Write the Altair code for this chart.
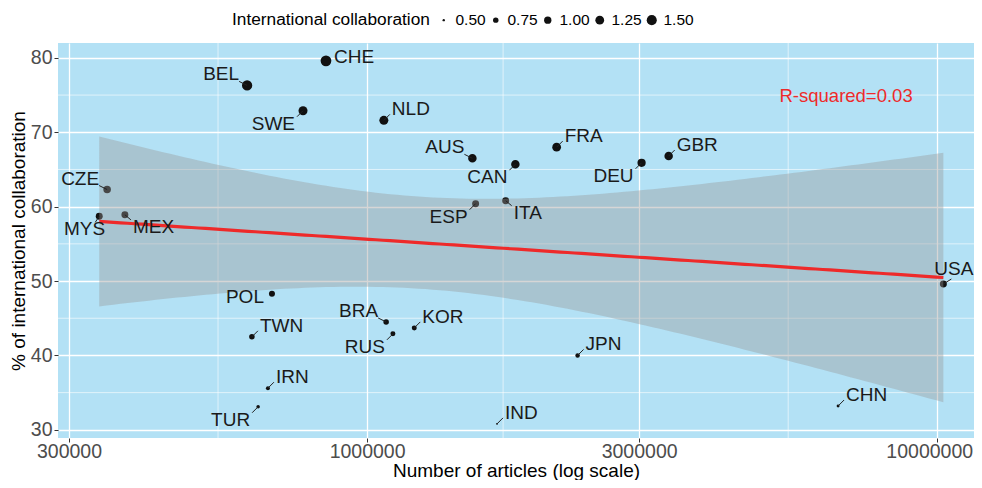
import altair as alt
import numpy as np
import pandas as pd

# ---- data ----
countries = ["CHE", "BEL", "SWE", "NLD", "AUS", "CAN", "FRA", "DEU", "GBR", "CZE",
             "MYS", "MEX", "ESP", "ITA", "USA", "POL", "TWN", "BRA", "RUS", "KOR",
             "JPN", "IRN", "TUR", "IND", "CHN"]
articles = [847000, 616000, 772000, 1070000, 1530000, 1820000, 2150000, 3030000, 3380000, 350000,
            339000, 376000, 1550000, 1750000, 10250000, 681000, 628000, 1080000, 1110000, 1210000,
            2340000, 670000, 644000, 1690000, 6700000]
intl_pct = [79.6, 76.3, 72.9, 71.6, 66.5, 65.7, 68.0, 65.9, 66.8, 62.3,
            58.7, 58.9, 60.4, 60.8, 49.6, 48.3, 42.5, 44.5, 42.9, 43.7,
            40.0, 35.6, 33.1, 30.8, 33.2]
intl_collab = [1.65, 1.55, 1.29, 1.29, 1.20, 1.20, 1.25, 1.15, 1.20, 1.03,
               0.95, 0.95, 0.95, 0.95, 0.95, 0.82, 0.76, 0.76, 0.70, 0.70,
               0.65, 0.61, 0.57, 0.48, 0.53]
label_side = ["r", "ul", "ll", "ur", "ul", "ll", "ur", "ll", "ur", "ul",
              "dl", "lr", "ll", "lr", "u", "l", "ur", "ul", "ll", "ur",
              "ur", "ur", "ll", "ur", "ur"]

x_ticks = [300000, 1000000, 3000000, 10000000]
x_minor = [547700, 1732000, 5477000]
y_ticks = [30, 40, 50, 60, 70, 80]
y_minor = [35, 45, 55, 65, 75]
size_legend_values = [0.5, 0.75, 1.0, 1.25, 1.5]
r2_text = ["R-squared=0.03"]
r2_pos_x = [6920000]
r2_pos_y = [74.9]

df = pd.DataFrame({"country": countries, "articles": articles, "pct": intl_pct,
                   "collab": intl_collab, "side": label_side})

# ---- linear model (lm on log10 articles) with 95% CI, like geom_smooth ----
L = np.log10(np.array(articles, dtype=float))
Y = np.array(intl_pct, dtype=float)
n = len(L)
b, a = np.polyfit(L, Y, 1)
Lbar = L.mean()
Sxx = ((L - Lbar) ** 2).sum()
s = np.sqrt(((Y - (a + b * L)) ** 2).sum() / (n - 2))
tq = 2.0687
grid = np.linspace(L.min(), L.max(), 120)
fit = a + b * grid
se = s * np.sqrt(1.0 / n + (grid - Lbar) ** 2 / Sxx)
df_fit = pd.DataFrame({"articles": 10 ** grid, "fit": fit, "lo": fit - tq * se, "hi": fit + tq * se})

FONT = "Liberation Sans"
X_DOM = [287000, 11600000]
Y_DOM = [28.9, 82.0]

xs = alt.Scale(type="log", domain=X_DOM, nice=False)
ys = alt.Scale(domain=Y_DOM, nice=False, zero=False)

x_axis = alt.Axis(values=x_ticks, format="d", title="Number of articles (log scale)",
                  labelFontSize=19.5, labelColor="#4d4d4d", tickColor="#333333", tickSize=4,
                  labelPadding=0, domain=False, grid=True, gridColor="white", gridWidth=1.3,
                  labelOffset={"condition": {"test": "datum.value >= 9000000", "value": -8}, "value": 0},
                  titleFontSize=19, titleFontWeight="normal", titleColor="black",
                  titleY=32, titleBaseline="middle",
                  labelFont=FONT, titleFont=FONT, labelFlush=False)
y_axis = alt.Axis(values=y_ticks, title="% of international collaboration",
                  labelFontSize=19.5, labelColor="#4d4d4d", tickColor="#333333", tickSize=4,
                  labelPadding=2, domain=False, grid=True, gridColor="white", gridWidth=1.3,
                  titleFontSize=19, titleFontWeight="normal", titleColor="black",
                  titleX=-40, titleBaseline="middle",
                  labelFont=FONT, titleFont=FONT)

base = alt.Chart(df)

xgrid = alt.Chart(pd.DataFrame({"v": x_minor})).mark_rule(color="white", strokeWidth=0.6).encode(
    x=alt.X("v:Q", scale=xs, axis=x_axis))
ygrid = alt.Chart(pd.DataFrame({"v": y_minor})).mark_rule(color="white", strokeWidth=0.6).encode(
    y=alt.Y("v:Q", scale=ys, axis=y_axis))

points = base.mark_circle(color="#111111", opacity=1).encode(
    x=alt.X("articles:Q", scale=xs, axis=x_axis),
    y=alt.Y("pct:Q", scale=ys, axis=y_axis),
    size=alt.Size("collab:Q",
                  scale=alt.Scale(type="linear", domain=[0.5, 1.5], range=[5.7, 101], zero=False),
                  legend=alt.Legend(orient="none", legendX=174, legendY=-31, direction="horizontal",
                                    titleOrient="left", title="International collaboration",
                                    values=size_legend_values, titleFontSize=17.3, titleLimit=400,
                                    titleFontWeight="normal", titleColor="black", titleFont=FONT,
                                    labelFont=FONT, labelFontSize=15.5, labelColor="black",
                                    symbolFillColor="black", symbolStrokeWidth=0,
                                    symbolType="circle", labelOffset=4, columnPadding=2,
                                    titlePadding=6, titleBaseline="middle", format=".2f")),
)

ribbon = alt.Chart(df_fit).mark_area(color="#999999", opacity=0.4).encode(
    x=alt.X("articles:Q", scale=xs),
    y=alt.Y("lo:Q", scale=ys),
    y2="hi:Q",
)
line = alt.Chart(df_fit).mark_line(color="#ee2a2a", strokeWidth=3.2).encode(
    x=alt.X("articles:Q", scale=xs),
    y=alt.Y("fit:Q", scale=ys),
)

label_offsets = {
    "ur": (8, -11, "left", 6, -6),
    "ul": (-8, -11, "right", -8, -4),
    "ll": (-8, 13, "right", -6, 6),
    "lr": (8, 12, "left", 6, 5),
    "r": (8, -4, "left", 0, 0),
    "l": (-8, 3, "right", 0, 0),
    "u": (30, -15, "right", 8, -5),
    "dl": (6, 13, "right", -4, 6),
}

label_layers = []
for side, (dx, dy, al, sx, sy) in label_offsets.items():
    sub = base.transform_filter(alt.datum.side == side)
    if sx != 0 or sy != 0:
        label_layers.append(sub.mark_rule(color="#222222", strokeWidth=1, x2Offset=sx, y2Offset=sy).encode(
            x=alt.X("articles:Q", scale=xs), y=alt.Y("pct:Q", scale=ys),
            x2="articles:Q", y2="pct:Q"))
    label_layers.append(sub.mark_text(font=FONT, fontSize=19, color="#1a1a1a", align=al,
                                      baseline="middle", dx=dx, dy=dy).encode(
        x=alt.X("articles:Q", scale=xs), y=alt.Y("pct:Q", scale=ys), text="country:N"))

r2 = alt.Chart(pd.DataFrame({"t": r2_text, "x": r2_pos_x, "y": r2_pos_y})).mark_text(
    font=FONT, fontSize=18.5, color="#ee2a2a", align="center", baseline="middle").encode(
    x=alt.X("x:Q", scale=xs), y=alt.Y("y:Q", scale=ys), text="t:N")

chart = alt.layer(xgrid, ygrid, points, ribbon, line, *label_layers, r2).properties(
    width=916, height=395,
    padding={"left": 50, "top": 35, "right": 0, "bottom": 42},
    autosize=alt.AutoSizeParams(type="none"),
).configure_view(fill="#b3e1f5", stroke=None)

chart.save("out.html", embed_options={"renderer": "svg", "actions": False})
